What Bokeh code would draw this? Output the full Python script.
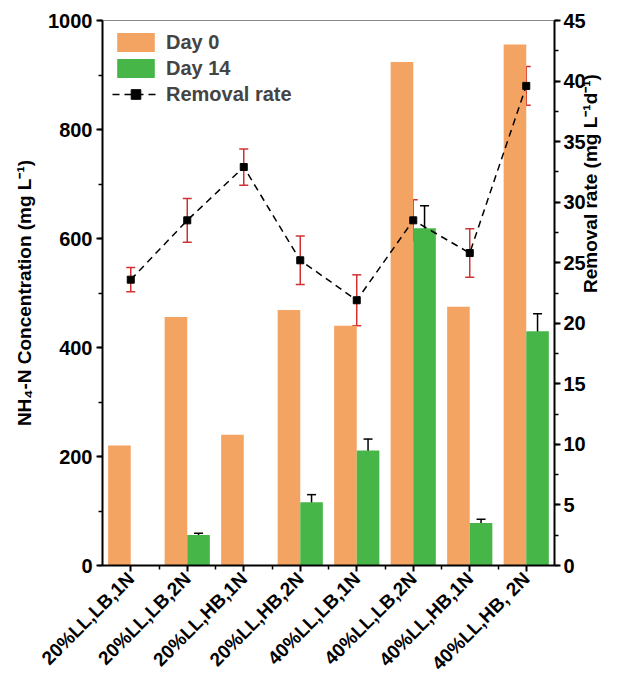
import math
import numpy as np
from bokeh.plotting import figure
from bokeh.models import (Range1d, LinearAxis, FixedTicker, SingleIntervalTicker,
                          ColumnDataSource, Whisker, TeeHead, Legend, LegendItem)
from bokeh.transform import dodge
from bokeh.embed import file_html
from bokeh.resources import INLINE

categories = ["20%LL,LB,1N", "20%LL,LB,2N", "20%LL,HB,1N", "20%LL,HB,2N",
              "40%LL,LB,1N", "40%LL,LB,2N", "40%LL,HB,1N", "40%LL,HB, 2N"]
day0 = [220, 456, 240, 469, 440, 924, 475, 956]
day14 = [0, 56, 0, 116, 211, 619, 78, 430]
day14_err = [0, 3, 0, 14, 21, 41, 7, 32]
rate = [23.6, 28.5, 32.9, 25.2, 21.9, 28.5, 25.8, 39.6]
rate_err = [1.0, 1.8, 1.5, 2.0, 2.1, 1.7, 2.0, 1.6]

ORANGE = "#F4A462"
GREEN = "#47B649"
RED = "#D03232"
FONT = "Liberation Sans"

idx = np.arange(len(categories))
src = ColumnDataSource(dict(x=idx, day0=day0, day14=day14, rate=rate,
                            rlo=np.array(rate) - np.array(rate_err),
                            rhi=np.array(rate) + np.array(rate_err)))
mask = np.array(day14) > 0
src14 = ColumnDataSource(dict(x=idx[mask],
                              lo=(np.array(day14) - np.array(day14_err))[mask],
                              hi=(np.array(day14) + np.array(day14_err))[mask]))

p = figure(width=614, height=684, x_range=Range1d(-0.5, len(categories) - 0.5),
           y_range=Range1d(0, 1000), output_backend="svg", toolbar_location=None,
           min_border_left=102, min_border_right=60, min_border_top=20, min_border_bottom=112)
p.extra_y_ranges = {"rate": Range1d(0, 45)}

p.xgrid.visible = False
p.ygrid.visible = False
p.outline_line_color = "#8a8a8a"
p.outline_line_width = 1

r0 = p.vbar(x=dodge("x", -0.2), top="day0", width=0.4, source=src,
            fill_color=ORANGE, line_color=None)
r14 = p.vbar(x=dodge("x", 0.2), top="day14", width=0.4, source=src,
             fill_color=GREEN, line_color=None)

p.add_layout(Whisker(source=src14, base=dodge("x", 0.2), lower="lo", upper="hi",
                     line_color="black", line_width=1.5,
                     upper_head=TeeHead(size=9, line_color="black", line_width=1.5),
                     lower_head=TeeHead(size=9, line_color="black", line_width=1.5)))

rl = p.line(x="x", y="rate", source=src, y_range_name="rate",
            line_color="black", line_dash="7 5", line_width=1.5)
p.add_layout(Whisker(source=src, base="x", lower="rlo", upper="rhi", y_range_name="rate",
                     line_color=RED, line_width=1.5,
                     upper_head=TeeHead(size=9, line_color=RED, line_width=1.5),
                     lower_head=TeeHead(size=9, line_color=RED, line_width=1.5)))
rs = p.scatter(x="x", y="rate", source=src, y_range_name="rate", marker="square",
               size=7, fill_color="black", line_color="black")

# axes
def style_axis(ax):
    ax.axis_line_width = 2
    ax.axis_line_color = "black"
    ax.major_tick_line_width = 2
    ax.major_tick_out = 6
    ax.major_tick_in = 0
    ax.minor_tick_line_width = 1.5
    ax.minor_tick_out = 4
    ax.minor_tick_in = 0
    ax.major_label_text_font = FONT
    ax.major_label_text_font_style = "bold"
    ax.major_label_text_font_size = "20px"
    ax.major_label_text_color = "black"
    ax.axis_label_text_font = FONT
    ax.axis_label_text_font_style = "bold"
    ax.axis_label_text_font_size = "19px"
    ax.axis_label_text_color = "black"
    ax.major_label_standoff = 4

xa = p.xaxis[0]
style_axis(xa)
xa.ticker = FixedTicker(ticks=list(idx), minor_ticks=[i + 0.5 for i in idx[:-1]])
xa.major_label_overrides = {int(i): c for i, c in zip(idx, categories)}
xa.major_label_orientation = math.pi / 4
xa.major_label_text_font_size = "19px"

ya = p.yaxis[0]
style_axis(ya)
ya.ticker = SingleIntervalTicker(interval=200, num_minor_ticks=2)
ya.axis_label = "NH\u2084-N Concentration (mg L\u207b\u00b9)"
ya.axis_label_standoff = 10

ra = LinearAxis(y_range_name="rate", axis_label="Removal rate (mg L\u207b\u00b9d\u207b\u00b9)")
style_axis(ra)
ra.ticker = SingleIntervalTicker(interval=5, num_minor_ticks=2)
ra.axis_label_orientation = math.pi / 2
ra.axis_label_standoff = 2
ra.major_label_standoff = 3
p.add_layout(ra, "right")

legend = Legend(items=[LegendItem(label="Day 0", renderers=[r0]),
                       LegendItem(label="Day 14", renderers=[r14]),
                       LegendItem(label="Removal rate", renderers=[rl, rs])],
                location="top_left", glyph_width=47, glyph_height=24, spacing=2,
                padding=3, margin=10, label_standoff=7,
                label_text_font=FONT, label_text_font_style="bold",
                label_text_font_size="20px", border_line_color=None,
                background_fill_alpha=0)
p.add_layout(legend)

open("out.html", "w").write(file_html(p, INLINE))
